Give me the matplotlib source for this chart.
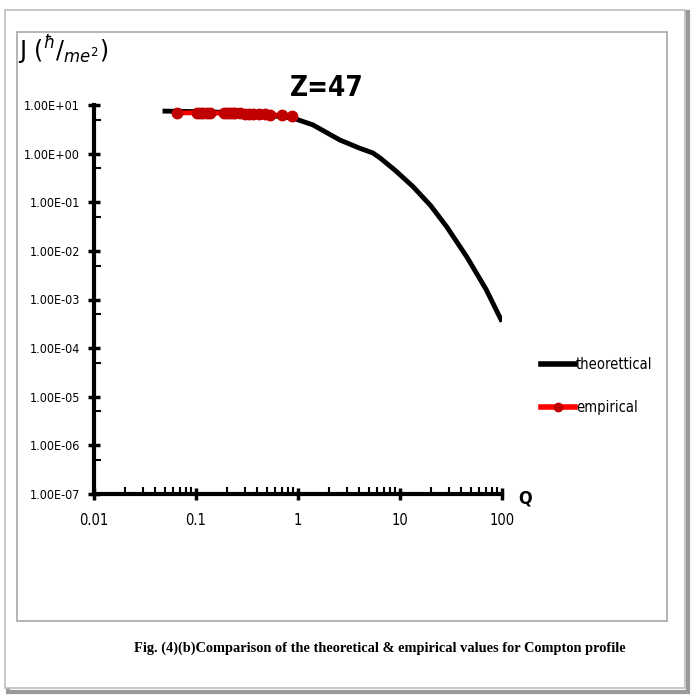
#! /usr/bin/env python3
"""
Compton profile J(Q) for Z=47: theoretical curve against empirical values.
"""

import matplotlib
matplotlib.use("Agg")
import matplotlib.pyplot as plt
from matplotlib.patches import Rectangle
from matplotlib.lines import Line2D

# theoretical Compton profile
q_theory = [0.047, 0.1, 0.3, 0.89, 1.4, 2.58, 4.0, 5.43, 6.4, 9.0, 13.4,
            20.0, 28.8, 45.4, 70.0, 100.0]
j_theory = [7.5, 7.3, 6.9, 5.4, 3.9, 1.9, 1.3, 1.03, 0.81, 0.45, 0.21,
            0.085, 0.031, 0.0074, 0.0016, 0.00035]

# empirical values
q_emp = [0.065, 0.102, 0.11, 0.117, 0.127, 0.137, 0.19, 0.2, 0.215, 0.228,
         0.24, 0.27, 0.3, 0.33, 0.36, 0.41, 0.47, 0.53, 0.70, 0.87]
j_emp = [6.9, 6.9, 6.9, 6.9, 6.8, 6.8, 6.8, 6.8, 6.8, 6.7, 6.7, 6.7, 6.6,
         6.6, 6.6, 6.5, 6.4, 6.3, 6.1, 5.9]

x_ticks = [0.01, 0.1, 1, 10, 100]
x_tick_labels = ["0.01", "0.1", "1", "10", "100"]
y_ticks = [1e-7, 1e-6, 1e-5, 1e-4, 1e-3, 1e-2, 1e-1, 1e0, 1e1]
y_tick_labels = ["1.00E-07", "1.00E-06", "1.00E-05", "1.00E-04", "1.00E-03",
                 "1.00E-02", "1.00E-01", "1.00E+00", "1.00E+01"]

W, H = 694, 695


def narrow(size, bold=False):
    return {"family": "DejaVu Sans", "stretch": "condensed", "size": size,
            "weight": "bold" if bold else "normal"}


def main():
    fig = plt.figure(figsize=(W / 100, H / 100), dpi=100)

    # page frames, kept behind the axes
    fig.patches.append(Rectangle((8 / W, 1 - 692 / H), 680 / W, 680 / H,
                                 transform=fig.transFigure, fill=False,
                                 edgecolor="#9a9a9a", linewidth=3,
                                 zorder=-3))
    fig.patches.append(Rectangle((5 / W, 1 - 688 / H), 680 / W, 678 / H,
                                 transform=fig.transFigure, facecolor="white",
                                 edgecolor="#bdbdbd", linewidth=1.2,
                                 zorder=-2))
    fig.patches.append(Rectangle((17 / W, 1 - 621 / H), 650 / W, 589 / H,
                                 transform=fig.transFigure, fill=False,
                                 edgecolor="#a8a8a8", linewidth=1.2,
                                 zorder=-1))

    ax = fig.add_axes([94 / W, 1 - 494 / H, 408 / W, 389 / H])
    ax.set_xscale("log")
    ax.set_yscale("log")
    ax.set_xlim(0.01, 100)
    ax.set_ylim(1e-7, 10)
    ax.patch.set_alpha(0)

    ax.plot(q_theory, j_theory, color="black", linewidth=3.5,
            solid_capstyle="butt", zorder=2)
    ax.plot(q_emp, j_emp, color="#ff0000", linewidth=3.5, marker="o",
            markersize=7.5, markerfacecolor="#c00000",
            markeredgecolor="#c00000", zorder=3)

    for side in ("top", "right"):
        ax.spines[side].set_visible(False)
    for side in ("left", "bottom"):
        ax.spines[side].set_linewidth(3)

    ax.set_xticks(x_ticks)
    ax.set_xticklabels(x_tick_labels, fontdict=narrow(10.5))
    ax.set_yticks(y_ticks)
    ax.set_yticklabels(y_tick_labels, fontdict=narrow(9))
    ax.yaxis.set_minor_locator(matplotlib.ticker.LogLocator(
        base=10, subs=(5,), numticks=20))
    ax.yaxis.set_minor_formatter(matplotlib.ticker.NullFormatter())
    ax.tick_params(which="major", direction="inout", length=8, width=2.5,
                   pad=6)
    ax.tick_params(axis="x", which="major", pad=10)
    ax.tick_params(which="minor", direction="in", length=5, width=1.5)

    fig.text(518 / W, 1 - 498 / H, "Q", fontdict=narrow(13, True),
             va="center", ha="left")
    fig.text(327 / W, 1 - 88 / H, "Z=47", fontdict=narrow(20, True),
             va="center", ha="center")
    fig.text(18 / W, 1 - 50 / H, r"J $(^{\hbar}/_{me^2})$", fontsize=17,
             va="center", ha="left")

    handles = [
        Line2D([], [], color="black", linewidth=4),
        Line2D([], [], color="#ff0000", linewidth=4, marker="o",
               markersize=6, markerfacecolor="#c00000",
               markeredgecolor="#c00000"),
    ]
    fig.legend(handles, ["theorettical", "empirical"],
               loc="center left", bbox_to_anchor=(528 / W, 1 - 386 / H),
               frameon=False, handlelength=2.3, handletextpad=0.1,
               labelspacing=1.9, prop=narrow(10.5))

    fig.text(380 / W, 1 - 648 / H,
             "Fig. (4)(b)Comparison of the theoretical & empirical values "
             "for Compton profile",
             fontsize=10.4, fontweight="bold", family="Liberation Serif",
             ha="center", va="center")

    fig.savefig("out.png", dpi=100)


if __name__ == "__main__":
    main()
